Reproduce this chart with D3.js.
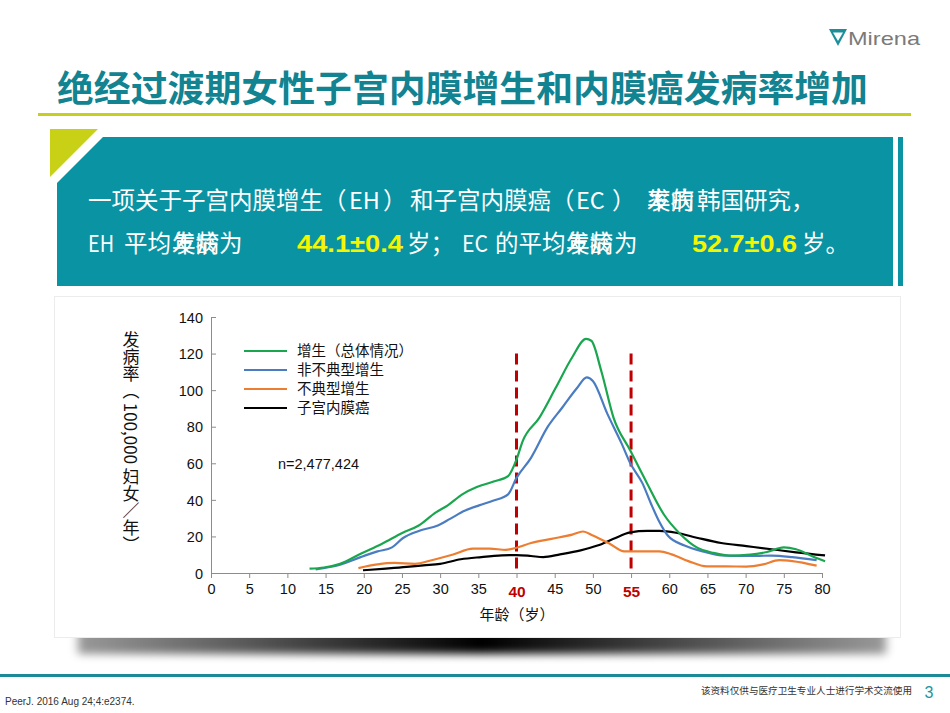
<!DOCTYPE html>
<html><head><meta charset="utf-8">
<script src="https://cdn.jsdelivr.net/npm/d3@7/dist/d3.min.js"></script>
<style>
body{margin:0;background:#fff}
svg{display:block}
</style></head><body>
<svg id="c" width="950" height="713"></svg>
<script>
// ---------- data ----------
const seriesNames = ["增生（总体情况）", "非不典型增生", "不典型增生", "子宫内膜癌"];
const seriesColors = ["#1aa64f", "#4a7cc1", "#ed7d31", "#000000"];

const totalAge  = [12.9,14.8,16.9,19.6,22.4,25.1,27.2,29.4,31,32.9,34.8,37,38.9,40,40.8,43,45.1,47.3,49.1,49.8,51.1,52.7,54.9,57.1,59.3,61.4,63.6,65.8,67.9,70.6,72.8,75,76.6,78.8,80.4];
const totalRate = [2.4,3,5,10.5,16,22,26,33,37,43,47,50,53,62,72,85,101,118,128,127,110.5,85,67,49,32,21.5,14,11,9.5,10,11.5,14,13,9,6.4];

const nonAtypAge  = [13.7,16.9,19.6,21.8,23.7,25.1,27.2,29.7,31.3,33.2,35.1,37,38.9,40,41.9,44.1,46,47.9,49.2,50,51.9,53.8,54.9,56.5,57.6,58.7,59.8,62,64.7,66.8,70.1,73.4,76.1,79.3];
const nonAtypRate = [2,4.5,8.7,11.8,14,19,23,26,29.6,34,37,39.6,43,52,63,80,90.5,101,107,105,87,70.5,60,49,38,28,20.5,15,11.5,9.6,9.3,9.5,8.7,7];

const atypAge  = [19.3,21.8,24,26.7,28.9,31.6,34.3,36.5,38.6,40,41.9,44.6,47.3,48.7,50,52.2,54.1,56,58.7,60.3,62.5,64.9,67.4,70.1,72.3,74.4,76.1,79.3];
const atypRate = [2.7,4.7,5.5,5,7,10,13.3,13.3,12.7,13.8,16.4,18.7,21,22.7,20.5,16,11.8,11.8,11.8,10.2,6.5,3.6,3.6,3.5,4.7,7,6.5,4];

const cancerAge  = [19.9,22.9,25.6,27.8,30,32.7,35.4,38.1,40,41.9,43.5,45.7,48.4,50.6,52.7,54.9,57.1,58.7,60.9,63.6,66.8,70.1,73.4,76.6,80.4];
const cancerRate = [1.5,2.4,3.3,4.2,5,7.5,8.7,9.6,9.8,9.3,8.7,10.2,12.4,15,18.7,22.2,23,23,22,19.3,16.4,14.7,13,11.3,9.6];

const xTicks = [0,5,10,15,20,25,30,35,40,45,50,55,60,65,70,75,80];
const yTicks = [0,20,40,60,80,100,120,140];
const markerAges = [40, 55];
const sampleText = "n=2,477,424";

// ---------- setup ----------
const svg = d3.select("#c");
const CJK = "'Noto Sans CJK SC','Noto Sans',sans-serif";
const LAT = "'Liberation Sans',Arial,'Noto Sans CJK SC',sans-serif";
const defs = svg.append("defs");

// logo
const logo = svg.append("g");
logo.append("path").attr("d","M829,29 L847,29 L838,46 Z").attr("fill","#1b8f9a");
logo.append("path").attr("d","M833,32.5 L843,32.5 L838,41 Z").attr("fill","#fff");
logo.append("text").attr("x",848).attr("y",45).attr("font-family",LAT).attr("font-size",19)
  .attr("fill","#7a7a7a").attr("textLength",72).attr("lengthAdjust","spacingAndGlyphs").text("Mirena");

// title
svg.append("text").attr("x",57).attr("y",102).attr("font-family",CJK).attr("font-weight",700)
  .attr("font-size",36).attr("fill","#118391").attr("textLength",811).attr("lengthAdjust","spacingAndGlyphs")
  .text("绝经过渡期女性子宫内膜增生和内膜癌发病率增加");
svg.append("rect").attr("x",38).attr("y",113).attr("width",873).attr("height",3).attr("fill","#c5cf22");

// banner
svg.append("path").attr("d","M50,129 L98,129 L50,177 Z").attr("fill","#c8d116");
svg.append("path").attr("d","M103,137 L893,137 L893,286 L57,286 L57,183 Z").attr("fill","#0a93a3");
svg.append("rect").attr("x",898).attr("y",137).attr("width",5).attr("height",149).attr("fill","#0a93a3");

const banner = svg.append("g").attr("font-family",CJK).attr("font-size",23.5).attr("fill","#fff");
const seg = (x, yy, t) => banner.append("text").attr("x",x).attr("y",yy).text(t);

const l1 = banner.append("text").attr("y",209);
[[88,"一项关于子宫内膜增生"],[323,"（"],[349,"EH"],[383,"）"],[410,"和子宫内膜癌"],
 [551,"（"],[576,"EC"],[612,"）"]].forEach(([px,t])=>l1.append("tspan").attr("x",px).text(t));
seg(647,209,"发病");
seg(647,209,"率的");
seg(697,209,"韩国研究，");

const l2a = banner.append("text").attr("y",252);
l2a.append("tspan").attr("x",88).attr("textLength",26).attr("lengthAdjust","spacingAndGlyphs").text("EH");
l2a.append("tspan").attr("x",124).text("平均");
seg(172,252,"发病");
seg(172,252,"年龄");
seg(219,252,"为");
banner.append("text").attr("x",297).attr("y",252).attr("font-family",LAT).attr("font-weight",700)
  .attr("font-size",24).attr("fill","#f5f500").attr("textLength",106).attr("lengthAdjust","spacingAndGlyphs").text("44.1±0.4");
const l2b = banner.append("text").attr("y",252);
l2b.append("tspan").attr("x",407).text("岁；");
l2b.append("tspan").attr("x",462).attr("textLength",26).attr("lengthAdjust","spacingAndGlyphs").text("EC");
l2b.append("tspan").attr("x",495).text("的平均");
seg(566,252,"发病");
seg(566,252,"年龄");
seg(614,252,"为");
banner.append("text").attr("x",692).attr("y",252).attr("font-family",LAT).attr("font-weight",700)
  .attr("font-size",24).attr("fill","#f5f500").attr("textLength",105).attr("lengthAdjust","spacingAndGlyphs").text("52.7±0.6");
seg(802,252,"岁。");

// shadow under panel
const hg = defs.append("linearGradient").attr("id","sh");
hg.append("stop").attr("offset","0%").attr("stop-color","#000").attr("stop-opacity",0.4);
hg.append("stop").attr("offset","50%").attr("stop-color","#000").attr("stop-opacity",1);
hg.append("stop").attr("offset","100%").attr("stop-color","#000").attr("stop-opacity",0.4);
const bl = defs.append("filter").attr("id","bl").attr("x","-10%").attr("y","-100%").attr("width","120%").attr("height","300%");
bl.append("feGaussianBlur").attr("stdDeviation","5 4");
defs.append("clipPath").attr("id","shc").append("rect").attr("x",0).attr("y",638).attr("width",950).attr("height",40);
svg.append("g").attr("clip-path","url(#shc)")
  .append("rect").attr("x",78).attr("y",624).attr("width",808).attr("height",30)
  .attr("fill","url(#sh)").attr("filter","url(#bl)");

// panel
svg.append("rect").attr("x",54.5).attr("y",296.5).attr("width",846).attr("height",341)
  .attr("fill","#fff").attr("stroke","#ececec");

// bottom line + footer
svg.append("rect").attr("x",0).attr("y",674).attr("width",950).attr("height",3).attr("fill","#1a8b97");
svg.append("text").attr("x",912).attr("y",694).attr("text-anchor","end").attr("font-family",CJK)
  .attr("font-size",9.6).attr("fill","#333").text("该资料仅供与医疗卫生专业人士进行学术交流使用");
svg.append("text").attr("x",929).attr("y",698).attr("text-anchor","middle").attr("font-family",LAT)
  .attr("font-size",16).attr("fill","#1b95a3").text("3");
svg.append("text").attr("x",5).attr("y",705).attr("font-family",LAT)
  .attr("font-size",10).attr("fill","#333").text("PeerJ. 2016 Aug 24;4:e2374.");

// ---------- chart ----------
const x = d3.scaleLinear().domain([0,80]).range([211,822]);
const y = d3.scaleLinear().domain([0,140]).range([573,317]);

const xa = svg.append("g").attr("transform","translate(0,573)")
  .call(d3.axisBottom(x).tickValues(xTicks).tickSize(5).tickSizeOuter(0).tickPadding(6));
const ya = svg.append("g").attr("transform","translate(211,0)")
  .call(d3.axisLeft(y).tickValues(yTicks).tickSize(-5).tickSizeOuter(0).tickPadding(8));
[xa,ya].forEach(a=>{
  a.selectAll("path,line").attr("stroke","#8c8c8c");
  a.selectAll("text").attr("font-family",LAT).attr("font-size",14.5).attr("fill","#111");
});
xa.selectAll(".tick text").filter(d=>markerAges.includes(d))
  .attr("fill","#c00000").attr("font-weight",700).attr("font-size",15.5).attr("dy","0.85em");
ya.selectAll(".tick text").attr("dy","0.36em");

// marker lines
svg.append("g").selectAll("line").data(markerAges).join("line")
  .attr("x1",d=>x(d)).attr("x2",d=>x(d)).attr("y1",y(120)).attr("y2",y(0))
  .attr("stroke","#c00000").attr("stroke-width",3).attr("stroke-dasharray","11,6");

// curves
const series = [
  {age: cancerAge, rate: cancerRate, c: 3},
  {age: atypAge, rate: atypRate, c: 2},
  {age: nonAtypAge, rate: nonAtypRate, c: 1},
  {age: totalAge, rate: totalRate, c: 0}
];
const line = d3.line().x(d=>x(d[0])).y(d=>y(d[1])).curve(d3.curveMonotoneX);
svg.append("g").selectAll("path").data(series).join("path")
  .attr("d",s=>line(s.age.map((a,i)=>[a,s.rate[i]])))
  .attr("fill","none").attr("stroke",s=>seriesColors[s.c]).attr("stroke-width",2.2)
  .attr("stroke-linejoin","round");

// legend
const lg = svg.append("g");
const rows = [351,370,389,408];
seriesNames.forEach((n,i)=>{
  lg.append("line").attr("x1",244).attr("x2",287).attr("y1",rows[i]).attr("y2",rows[i])
    .attr("stroke",seriesColors[i]).attr("stroke-width",2.2);
  lg.append("text").attr("x",297).attr("y",rows[i]+5).attr("font-family",CJK)
    .attr("font-size",14.5).attr("fill","#111").text(n);
});

svg.append("text").attr("x",278).attr("y",469).attr("font-family",LAT).attr("font-size",14.5)
  .attr("fill","#111").text(sampleText);

svg.append("text").attr("x",517).attr("y",620).attr("text-anchor","middle").attr("font-family",CJK)
  .attr("font-size",15).attr("fill","#111").text("年龄（岁）");

svg.append("text").attr("x",131).attr("y",331).attr("font-family",CJK).attr("font-size",17)
  .attr("fill","#111").style("writing-mode","vertical-rl").style("text-orientation","mixed")
  .text("发病率（ 100,000 妇女／年）");
</script>
</body></html>
